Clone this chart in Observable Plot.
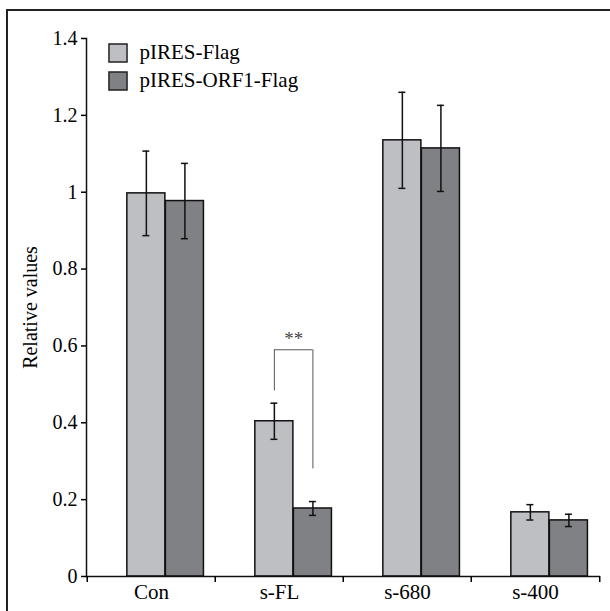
<!DOCTYPE html>
<html>
<head>
<meta charset="utf-8">
<script src="https://cdn.jsdelivr.net/npm/d3@7"></script>
<script src="https://cdn.jsdelivr.net/npm/@observablehq/plot@0.6"></script>
<style>
  html, body { margin: 0; padding: 0; background: #fff; }
  #wrap { position: relative; width: 610px; height: 611px; overflow: hidden; }
  #wrap svg { position: absolute; left: 0; top: 0; }
  .bt { position: absolute; left: 6px; top: 9px; right: 0; height: 2px; background: #222; }
  .bl { position: absolute; left: 6px; top: 9px; bottom: 0; width: 2px; background: #222; }
</style>
</head>
<body>
<div id="wrap"><div class="bt"></div><div class="bl"></div></div>
<script>
const categories = ["Con", "s-FL", "s-680", "s-400"];
const series = ["pIRES-Flag", "pIRES-ORF1-Flag"];
const flagMean = [0.997, 0.404, 1.135, 0.167];
const flagErr = [0.11, 0.047, 0.125, 0.02];
const orf1Mean = [0.977, 0.177, 1.114, 0.146];
const orf1Err = [0.098, 0.018, 0.112, 0.016];
const yTicks = [0, 0.2, 0.4, 0.6, 0.8, 1, 1.2, 1.4];
const sigCategory = "s-FL";
const sigTop = 0.59, sigLeftEnd = 0.483, sigRightEnd = 0.28;
const sigLabel = "**";
const colors = ["#bebfc3", "#808185"];

const W = 610, H = 611, mL = 86, mR = 10, mT = 38, mB = 35;
const band = (W - mL - mR) / categories.length;
const barW = band * 0.3;
const off0 = band * 0.31;
const centers = [off0 + barW / 2, off0 + barW * 1.5];
const capHalf = 3.75;

const rows = [flagMean, orf1Mean].map((means, s) => categories.map((c, i) => ({
  category: c, series: series[s], value: means[i],
  lo: means[i] - [flagErr, orf1Err][s][i], hi: means[i] + [flagErr, orf1Err][s][i]
})));

const marks = [];
rows.forEach((data, s) => {
  const left = off0 + barW * s;
  marks.push(Plot.barY(data, {x: "category", y: "value", fill: colors[s], stroke: "#111", strokeWidth: 1.5,
    insetLeft: left, insetRight: band - left - barW}));
});
rows.forEach((data, s) => {
  const c = centers[s];
  marks.push(Plot.ruleX(data, {x: "category", y1: "lo", y2: "hi", dx: c - band / 2, stroke: "#111", strokeWidth: 1.5}));
  marks.push(Plot.tickY(data, {x: "category", y: "hi", insetLeft: c - capHalf, insetRight: band - c - capHalf, stroke: "#111", strokeWidth: 1.5}));
  marks.push(Plot.tickY(data, {x: "category", y: "lo", insetLeft: c - capHalf, insetRight: band - c - capHalf, stroke: "#111", strokeWidth: 1.5}));
});
// significance bracket
marks.push(Plot.ruleX([sigCategory], {x: d => d, y1: sigLeftEnd, y2: sigTop, dx: centers[0] - band / 2, stroke: "#555", strokeWidth: 1}));
marks.push(Plot.ruleX([sigCategory], {x: d => d, y1: sigRightEnd, y2: sigTop, dx: centers[1] - band / 2, stroke: "#555", strokeWidth: 1}));
marks.push(Plot.tickY([sigCategory], {x: d => d, y: sigTop, insetLeft: centers[0], insetRight: band - centers[1], stroke: "#555", strokeWidth: 1}));
marks.push(Plot.text([sigLabel], {x: () => sigCategory, y: sigTop, text: d => d, dx: (centers[0] + centers[1]) / 2 - band / 2, dy: -11, fontSize: 19, fill: "#444"}));

// axes
marks.push(Plot.axisY({ticks: yTicks, tickSize: 5, tickPadding: 4, fontSize: 20, label: null, tickFormat: d => String(d), strokeWidth: 1.5}));
marks.push(Plot.frame({anchor: "left", stroke: "#111", strokeWidth: 1.5}));
marks.push(Plot.ruleY([0], {stroke: "#111", strokeWidth: 1.5}));
marks.push(Plot.axisX({tickSize: 0, tickPadding: 8, fontSize: 21, label: null}));
marks.push(Plot.axisX({ticks: categories, tickSize: 6, tickFormat: () => "", dx: -band / 2, label: null, strokeWidth: 1.5}));
marks.push(Plot.axisX({ticks: [categories[categories.length - 1]], tickSize: 6, tickFormat: () => "", dx: band / 2, label: null, strokeWidth: 1.5}));
marks.push(Plot.text(["Relative values"], {text: d => d, frameAnchor: "left", rotate: -90, dx: -56, fontSize: 20, textAnchor: "middle", lineAnchor: "middle"}));

// legend
series.forEach((s, i) => {
  marks.push(Plot.dot([s], {frameAnchor: "top-left", dx: 31.5, dy: 14.5 + 28 * i, symbol: "square", r: 10.2, fill: colors[i], stroke: "#222", strokeWidth: 1.5}));
  marks.push(Plot.text([s], {text: d => d, frameAnchor: "top-left", dx: 53, dy: 14 + 28 * i, textAnchor: "start", lineAnchor: "middle", fontSize: 21}));
});

const chart = Plot.plot({
  width: W, height: H,
  marginLeft: mL, marginRight: mR, marginTop: mT, marginBottom: mB,
  style: {fontFamily: "'Liberation Serif', 'Times New Roman', serif", color: "#000", background: "transparent"},
  x: {domain: categories, padding: 0, axis: null},
  y: {domain: [0, 1.4], axis: null},
  marks
});
document.getElementById("wrap").prepend(chart);
</script>
</body>
</html>
